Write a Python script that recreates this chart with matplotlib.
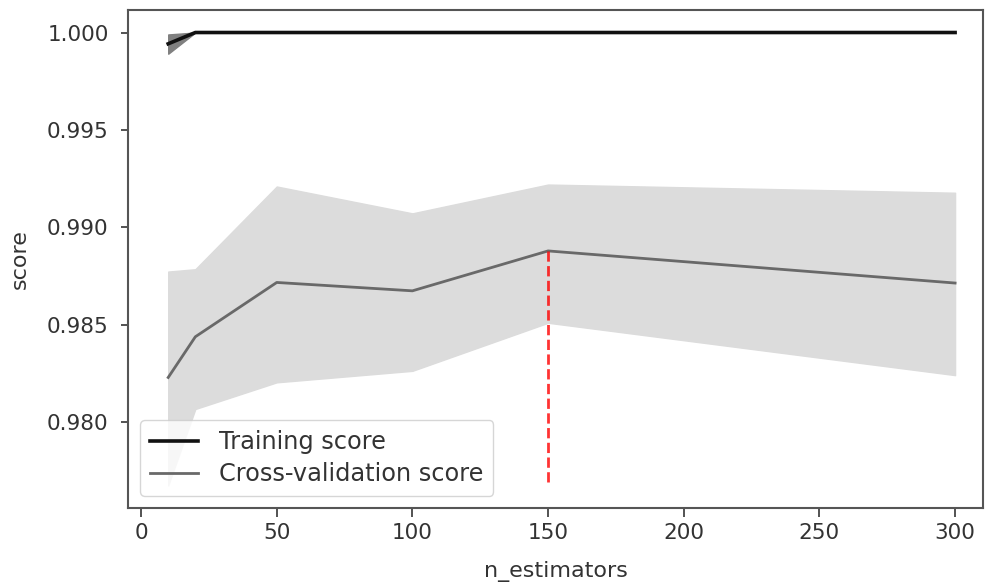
import matplotlib
matplotlib.use("Agg")
import matplotlib.pyplot as plt
import numpy as np

param_range = [10, 20, 50, 100, 150, 300]
train_mean = [0.99942, 1.0, 1.0, 1.0, 1.0, 1.0]
train_upper = [0.99990, 1.0, 1.0, 1.0, 1.0, 1.0]
train_lower = [0.99891, 1.0, 1.0, 1.0, 1.0, 1.0]
test_mean = [0.98228, 0.98437, 0.98716, 0.98673, 0.98878, 0.98713]
test_upper = [0.98772, 0.98784, 0.99209, 0.99071, 0.99219, 0.99177]
test_lower = [0.97673, 0.98066, 0.98203, 0.98262, 0.98509, 0.98240]
best_x = 150
best_y = 0.98878
vline_bottom = 0.97693

plt.rcParams['font.size'] = 16
plt.rcParams['text.color'] = '#333333'
plt.rcParams['axes.labelcolor'] = '#333333'
plt.rcParams['xtick.labelcolor'] = '#333333'
plt.rcParams['ytick.labelcolor'] = '#333333'
fig = plt.figure(figsize=(9.85, 5.84), dpi=100)
ax = fig.add_axes([0.130, 0.130, 0.868, 0.853])

ax.plot(param_range, train_mean, label="Training score", color="#111111", lw=2.6)
ax.plot(param_range, test_mean, label="Cross-validation score", color="dimgrey", lw=2.0)
ax.fill_between(param_range, train_lower, train_upper, color="gray")
ax.fill_between(param_range, test_lower, test_upper, color="gainsboro")
ax.vlines(best_x, vline_bottom, best_y, colors="red", linestyles="dashed", alpha=0.8, lw=2.0)

ax.set_xlim(-4.8, 310.3)
ax.set_ylim(0.97557, 1.00116)
ax.set_yticks([0.980, 0.985, 0.990, 0.995, 1.000])
ax.tick_params(axis='x', length=6.5, pad=4, labelsize=15.5, color="#444444", width=1.3)
ax.tick_params(axis='y', length=5, pad=9, labelsize=15.5, color="#444444", width=1.3)
ax.set_xlabel("n_estimators", fontsize=16, labelpad=13)
ax.set_ylabel("score", fontsize=16, labelpad=12)
ax.legend(loc="lower left", fontsize=17.3, handlelength=2.0, labelspacing=0.35,
          borderaxespad=0.5, handletextpad=0.9)
for s in ax.spines.values():
    s.set_color("#555555")
    s.set_linewidth(1.5)
fig.savefig("out.png", dpi=100)
